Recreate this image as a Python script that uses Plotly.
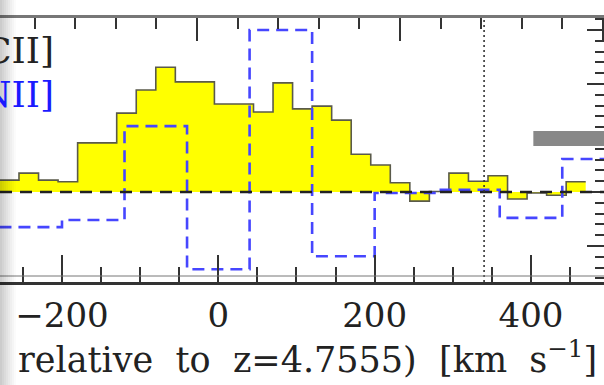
import plotly.graph_objects as go

# ---------------- data ----------------
# yellow (filled) spectrum: 25 km/s channels, left edges
yel_edges = [-280, -255, -230, -205, -180, -155, -130, -105, -80, -55, -30, -5, 20, 45, 70,
             95, 120, 145, 170, 195, 220, 245, 270, 295, 320, 345, 370, 395, 420, 445, 470]
yel_flux = [0.22, 0.35, 0.22, 0.19, 0.91, 0.91, 1.46, 1.89, 2.31, 2.04, 2.04, 1.63, 1.63, 1.48, 2.02,
            1.54, 1.59, 1.33, 0.70, 0.50, 0.17, -0.17, 0.01, 0.35, 0.20, 0.30, -0.13, -0.02, -0.06, 0.19]

# blue dashed spectrum: 80 km/s channels
blue_edges = [-280, -200, -120, -40, 40, 120, 200, 280, 360, 440, 520]
blue_flux = [-0.65, -0.52, 1.22, -1.43, 3.00, -1.19, -0.02, 0.04, -0.48, 0.61]

x_ticks = [-200, 0, 200, 400]
x_ticklabels = ["\u2212200", "0", "200", "400"]
ref_velocity = 340          # dotted vertical marker
grey_bar = dict(v0=403, v1=520, f0=0.85, f1=1.13)

line_labels = ["[CII]", "[NII]"]
line_colors = ["#222222", "#1a1aff"]
NB = "\u00a0\u00a0"
x_title = f"relative{NB}to{NB}z=4.7555){NB}[km{NB}s<sup>\u22121</sup>]"

X_RANGE = [-279.3, 493.4]
Y_RANGE = [-1.667, 3.222]

# ---------------- figure ----------------
def steps(edges, vals):
    xs = list(edges[:len(vals)]) + [edges[len(vals)]]
    ys = list(vals) + [vals[-1]]
    return xs, ys

fig = go.Figure()

yx, yy = steps(yel_edges, yel_flux)
fig.add_trace(go.Scatter(x=yx, y=yy, mode="lines", line=dict(shape="hv", color="#5a5a4a", width=1.6),
                         fill="tozeroy", fillcolor="#ffff00", hoverinfo="skip", showlegend=False))

bx, by = steps(blue_edges, blue_flux)
fig.add_trace(go.Scatter(x=bx, y=by, mode="lines",
                         line=dict(shape="hv", color="rgb(70,70,255)", width=2.6, dash="12px,7px"),
                         hoverinfo="skip", showlegend=False))

shapes = [
    # zero line
    dict(type="line", xref="paper", x0=0, x1=1, yref="y", y0=0, y1=0,
         line=dict(color="#222", width=2.6, dash="12px,8px"), layer="above"),
    # dotted reference velocity
    dict(type="line", xref="x", x0=ref_velocity, x1=ref_velocity, yref="paper", y0=0, y1=1,
         line=dict(color="#333", width=1.6, dash="2px,3px"), layer="above"),
    # grey bar
    dict(type="rect", xref="x", x0=grey_bar["v0"], x1=grey_bar["v1"], yref="y",
         y0=grey_bar["f0"], y1=grey_bar["f1"], fillcolor="#888888", line=dict(width=0), layer="above"),
    # thin line just above bottom axis
    dict(type="line", xref="paper", x0=0, x1=1, yref="y", y0=-1.556, y1=-1.556,
         line=dict(color="#777", width=1), layer="above"),
]
# left-edge page shadow
for i in range(8):
    shapes.append(dict(type="rect", xref="paper", x0=i * 2 / 604, x1=(i + 1) * 2 / 604,
                       yref="paper", y0=-0.5, y1=1.1, fillcolor="#000000",
                       opacity=0.2 * (1 - i / 8) ** 1.2, line=dict(width=0), layer="above"))

annotations = [
    dict(text=line_labels[0], xref="paper", yref="paper", x=56 / 604, y=(282 - 50) / 264,
         xanchor="right", yanchor="middle", showarrow=False,
         font=dict(family="DejaVu Serif", size=36, color=line_colors[0])),
    dict(text=line_labels[1], xref="paper", yref="paper", x=56 / 604, y=(282 - 95) / 264,
         xanchor="right", yanchor="middle", showarrow=False,
         font=dict(family="DejaVu Serif", size=36, color=line_colors[1])),
    dict(text=x_title, xref="paper", yref="paper", x=599 / 604, y=(282 - 357) / 264,
         xanchor="right", yanchor="middle", showarrow=False,
         font=dict(family="DejaVu Serif", size=35, color="#222")),
]

fig.update_layout(
    width=604, height=385,
    margin=dict(l=0, r=0, t=18, b=103),
    paper_bgcolor="white", plot_bgcolor="white",
    shapes=shapes, annotations=annotations,
    xaxis=dict(range=X_RANGE, tickvals=x_ticks, ticktext=x_ticklabels, ticks="inside",
               ticklen=27, tickwidth=2.2, tickcolor="#333", showline=True, linecolor="#333",
               linewidth=2.5, showgrid=False, zeroline=False, ticklabelstandoff=1,
               tickfont=dict(family="DejaVu Serif", size=34, color="#222"),
               minor=dict(dtick=50, tick0=0, ticks="inside", ticklen=15, tickwidth=2.2,
                          tickcolor="#333", showgrid=False)),
    xaxis2=dict(overlaying="x", side="top", range=[-0.970, 2.005], tick0=0, dtick=1,
                ticks="inside", ticklen=23, tickwidth=2.2, tickcolor="#333",
                showticklabels=False, showline=True, linecolor="#777", linewidth=2.5,
                showgrid=False, zeroline=False,
                minor=dict(dtick=0.2, ticks="inside", ticklen=11, tickwidth=2.2,
                           tickcolor="#333", showgrid=False)),
    yaxis=dict(range=Y_RANGE, side="right", tick0=0, dtick=1, ticks="inside", ticklen=17,
               tickwidth=2.2, tickcolor="#333", showticklabels=False, showline=False,
               showgrid=False, zeroline=False,
               minor=dict(dtick=0.2, ticks="inside", ticklen=9, tickwidth=2.2,
                          tickcolor="#333", showgrid=False)),
)
# invisible trace to activate top axis
fig.add_trace(go.Scatter(x=[0], y=[0], xaxis="x2", mode="markers", marker=dict(opacity=0),
                         hoverinfo="skip", showlegend=False))

fig.write_html("out.html")
